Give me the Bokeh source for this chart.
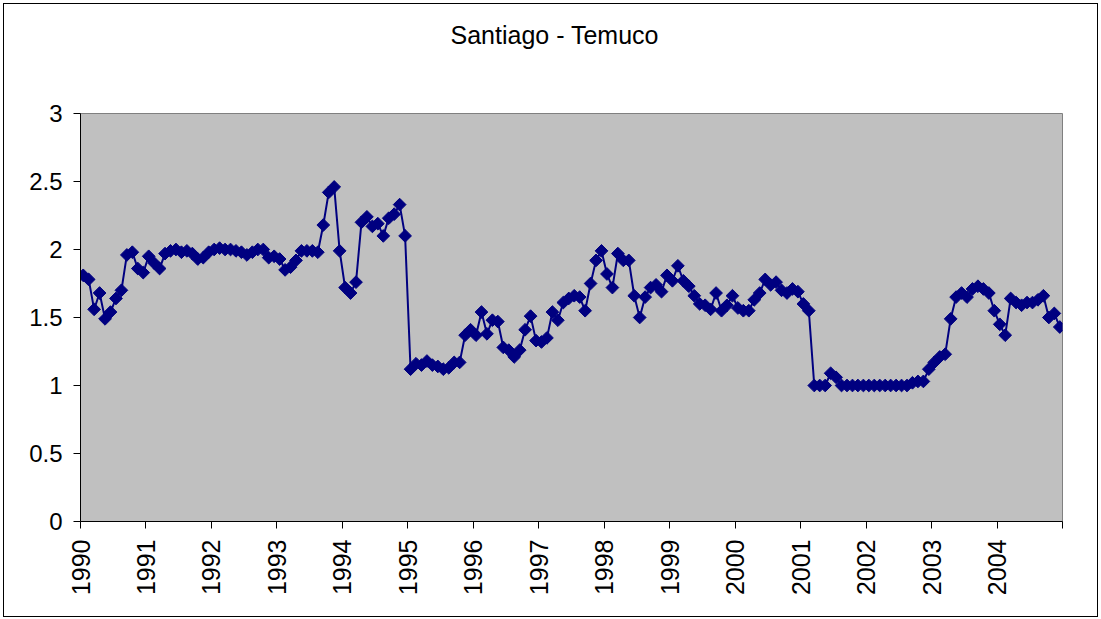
import numpy as np
from bokeh.plotting import figure
from bokeh.models import FixedTicker, Range1d, Title
from bokeh.embed import file_html
from bokeh.resources import INLINE

title_text = "Santiago - Temuco"
years = list(range(1990, 2005))

v1990 = [1.81, 1.78, 1.56, 1.68, 1.49, 1.54, 1.64, 1.70, 1.96, 1.98, 1.86, 1.83]
v1991 = [1.95, 1.90, 1.86, 1.97, 1.99, 2.00, 1.98, 1.99, 1.97, 1.93, 1.94, 1.98]
v1992 = [2.00, 2.01, 2.00, 2.00, 1.99, 1.98, 1.96, 1.98, 2.00, 2.00, 1.94, 1.95]
v1993 = [1.93, 1.85, 1.87, 1.92, 1.99, 1.99, 1.99, 1.98, 2.18, 2.42, 2.46, 1.99]
v1994 = [1.72, 1.68, 1.76, 2.20, 2.24, 2.17, 2.19, 2.10, 2.23, 2.26, 2.33, 2.10]
v1995 = [1.12, 1.16, 1.15, 1.18, 1.15, 1.14, 1.12, 1.13, 1.17, 1.17, 1.37, 1.41]
v1996 = [1.37, 1.54, 1.38, 1.48, 1.47, 1.28, 1.26, 1.21, 1.26, 1.41, 1.51, 1.33]
v1997 = [1.32, 1.35, 1.54, 1.48, 1.61, 1.64, 1.66, 1.65, 1.55, 1.75, 1.92, 1.99]
v1998 = [1.82, 1.72, 1.97, 1.92, 1.92, 1.66, 1.50, 1.65, 1.72, 1.74, 1.69, 1.81]
v1999 = [1.77, 1.88, 1.77, 1.73, 1.66, 1.60, 1.59, 1.56, 1.68, 1.55, 1.59, 1.66]
v2000 = [1.57, 1.55, 1.55, 1.63, 1.68, 1.78, 1.74, 1.76, 1.70, 1.68, 1.71, 1.69]
v2001 = [1.60, 1.55, 1.00, 1.00, 1.00, 1.09, 1.06, 1.00, 1.00, 1.00, 1.00, 1.00]
v2002 = [1.00, 1.00, 1.00, 1.00, 1.00, 1.00, 1.00, 1.00, 1.02, 1.03, 1.03, 1.12]
v2003 = [1.17, 1.21, 1.23, 1.49, 1.65, 1.68, 1.65, 1.71, 1.73, 1.71, 1.68, 1.55]
v2004 = [1.45, 1.37, 1.64, 1.61, 1.59, 1.61, 1.61, 1.63, 1.66, 1.50, 1.53, 1.43]

y_ticks = [0, 0.5, 1, 1.5, 2, 2.5, 3]
y_tick_labels = ["0", "0.5", "1", "1.5", "2", "2.5", "3"]

values = (v1990 + v1991 + v1992 + v1993 + v1994 + v1995 + v1996 + v1997
          + v1998 + v1999 + v2000 + v2001 + v2002 + v2003 + v2004)
n = len(values)
xs = [i + 0.5 for i in range(n)]

FONT = "Liberation Sans"
NAVY = "#000080"

p = figure(width=1095, height=614, output_backend="svg", toolbar_location=None,
           x_range=Range1d(0, n), y_range=Range1d(0, 3),
           min_border_left=76, min_border_right=37, min_border_top=109,
           min_border_bottom=97)
p.styles = {"margin-left": "3px", "margin-top": "3px", "border": "1px solid black"}

p.title.text = title_text
p.title.align = "left"
p.title.offset = 370
p.title.text_font = FONT
p.title.text_font_size = "25px"
p.title.text_font_style = "normal"
p.title.text_color = "black"
p.title.standoff = 10

# empty spacer between the title and the plot area
p.add_layout(Title(text=" ", text_font_size="24px", standoff=31), "above")

p.background_fill_color = "#C0C0C0"
p.border_fill_color = "white"
p.outline_line_color = "#808080"
p.outline_line_width = 1
p.xgrid.visible = False
p.ygrid.visible = False

p.line(xs, values, line_color=NAVY, line_width=2)
p.scatter(xs, values, marker="square", angle=np.pi / 4, size=9,
          fill_color=NAVY, line_color=NAVY)

# y axis
p.yaxis.ticker = FixedTicker(ticks=y_ticks)
p.yaxis.major_label_overrides = {t: s for t, s in zip(y_ticks, y_tick_labels)}
p.yaxis.minor_tick_line_color = None
p.yaxis.major_tick_out = 7
p.yaxis.major_tick_in = 0
p.yaxis.axis_line_color = "black"
p.yaxis.major_tick_line_color = "black"
p.yaxis.major_label_text_font = FONT
p.yaxis.major_label_text_font_size = "24px"
p.yaxis.major_label_text_color = "black"
p.yaxis.major_label_standoff = 11

# x axis
x_ticks = [12 * k for k in range(len(years) + 1)]
x_labels = {12 * k: str(y) for k, y in enumerate(years)}
x_labels[12 * len(years)] = ""
p.xaxis.ticker = FixedTicker(ticks=x_ticks)
p.xaxis.major_label_overrides = x_labels
p.xaxis.minor_tick_line_color = None
p.xaxis.major_tick_out = 7
p.xaxis.major_tick_in = 0
p.xaxis.axis_line_color = "black"
p.xaxis.major_tick_line_color = "black"
p.xaxis.major_label_orientation = np.pi / 2
p.xaxis.major_label_text_font = FONT
p.xaxis.major_label_text_font_size = "25px"
p.xaxis.major_label_text_color = "black"
p.xaxis.major_label_standoff = 11

open("out.html", "w").write(file_html(p, INLINE))
